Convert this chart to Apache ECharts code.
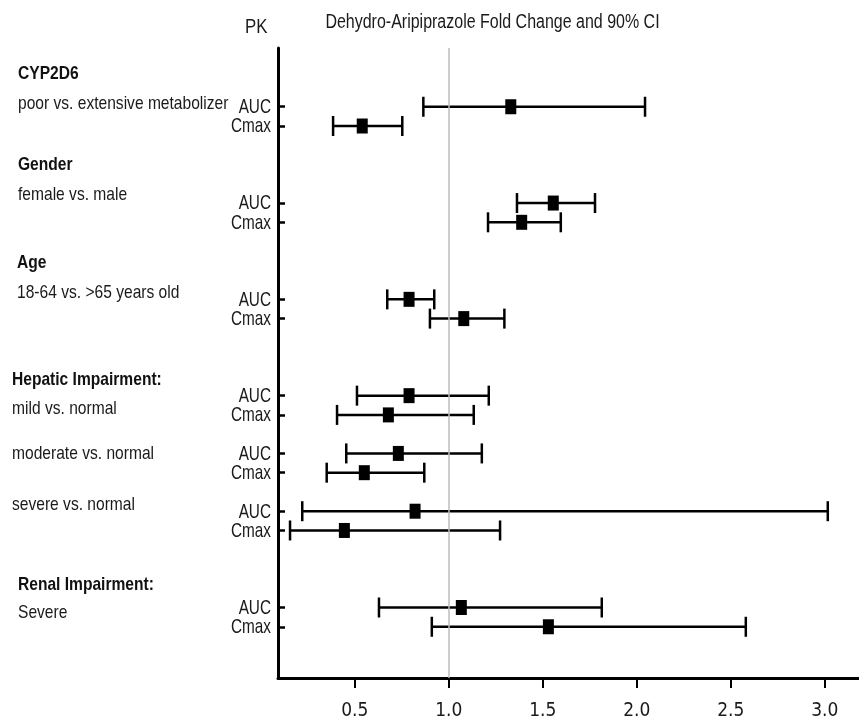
<!DOCTYPE html>
<html>
<head>
<meta charset="utf-8">
<script src="https://cdn.jsdelivr.net/npm/echarts@6/dist/echarts.min.js"></script>
<style>
html,body{margin:0;padding:0;background:#fff;}
#chart{width:859px;height:723px;}
</style>
</head>
<body>
<div id="chart"></div>
<script>
// ---- data ----
const rowPos   = [0, 1, 5, 6, 10, 11, 15, 16, 18, 19, 21, 22, 26, 27];
const pkLabels = ['AUC','Cmax','AUC','Cmax','AUC','Cmax','AUC','Cmax','AUC','Cmax','AUC','Cmax','AUC','Cmax'];
const estimate = [1.33, 0.54, 1.556, 1.388, 0.789, 1.08, 0.789, 0.679, 0.732, 0.551, 0.821, 0.445, 1.067, 1.53];
const lower    = [0.865, 0.385, 1.363, 1.209, 0.673, 0.90, 0.512, 0.406, 0.455, 0.351, 0.221, 0.156, 0.629, 0.91];
const upper    = [2.044, 0.753, 1.778, 1.596, 0.923, 1.296, 1.213, 1.133, 1.176, 0.87, 3.016, 1.273, 1.814, 2.58];
const xTicks   = [0.5, 1.0, 1.5, 2.0, 2.5, 3.0];
const refValue = 1.0;
const groupTitles = ['CYP2D6', 'Gender', 'Age', 'Hepatic Impairment:', 'Renal Impairment:'];
const groupSubs   = ['poor vs. extensive metabolizer', 'female vs. male', '18-64 vs. >65 years old',
                     'mild vs. normal', 'moderate vs. normal', 'severe vs. normal', 'Severe'];
const titleText = 'Dehydro-Aripiprazole Fold Change and 90% CI';
const pkHeader = 'PK';

// ---- layout/styles ----
const FONT = "'Liberation Sans', Arial, sans-serif";
const XFONT = "'DejaVu Sans Condensed','Liberation Sans',sans-serif";
const NARROW = 0.82;
const titlePos = [[18,74],[18,165],[17,263],[12,380],[18,585]];
const subPos = [[18,104],[18,195],[17,293],[12,409],[12,454],[12,505],[18,613]];

const chart = echarts.init(document.getElementById('chart'), null, {renderer:'canvas'});

const graphics = [];
groupTitles.forEach((t,i)=>graphics.push({type:'text', x:titlePos[i][0], y:titlePos[i][1], scaleX:NARROW,
  style:{text:t, font:"bold 19px "+FONT, fill:'#111', verticalAlign:'middle', align:'left'}}));
groupSubs.forEach((t,i)=>graphics.push({type:'text', x:subPos[i][0], y:subPos[i][1], scaleX:NARROW,
  style:{text:t, font:"19px "+FONT, fill:'#1a1a1a', verticalAlign:'middle', align:'left'}}));
graphics.push({type:'text', x:245, y:27, scaleX:NARROW, style:{text:pkHeader, font:"20.5px "+FONT, fill:'#1a1a1a', verticalAlign:'middle', align:'left'}});
graphics.push({type:'text', x:492.5, y:23, scaleX:NARROW, style:{text:titleText, font:"19.5px "+FONT, fill:'#1a1a1a', align:'center', verticalAlign:'middle'}});

const ciData = rowPos.map((r,i)=>[lower[i], upper[i], r, i]);
const ptData = rowPos.map((r,i)=>[estimate[i], r]);
const X_MIN = 0.092, X_MAX = 3.182;

chart.setOption({
  animation:false,
  backgroundColor:'#fff',
  graphic: graphics,
  grid:{left:278, right:0, top:48, bottom:45, containLabel:false},
  xAxis:{
    type:'value', min:X_MIN, max:X_MAX,
    axisLine:{show:true, onZero:false, lineStyle:{color:'#000', width:3}},
    axisTick:{show:true, customValues:xTicks, length:10, lineStyle:{color:'#000', width:2}},
    axisLabel:{customValues:xTicks, formatter:v=>v.toFixed(1), margin:24,
      fontFamily:XFONT, fontSize:19, color:'#1a1a1a'},
    splitLine:{show:false}
  },
  yAxis:{
    type:'value', inverse:true, min:-3.05, max:29.66,
    axisLine:{show:true, onZero:false, lineStyle:{color:'#000', width:3}},
    axisTick:{show:true, inside:true, customValues:rowPos, length:7, lineStyle:{color:'#000', width:2.5}},
    axisLabel:{show:false},
    splitLine:{show:false}
  },
  series:[
    {
      type:'custom',
      clip:false,
      data:ciData,
      renderItem:function(params, api){
        const row = api.value(2);
        const lo = api.coord([api.value(0), row]);
        const hi = api.coord([api.value(1), row]);
        const ax = api.coord([X_MIN, row]);
        const h = 10;
        const st = {stroke:'#000', lineWidth:2.5};
        return {type:'group', children:[
          {type:'line', shape:{x1:lo[0], y1:lo[1], x2:hi[0], y2:hi[1]}, style:st},
          {type:'line', shape:{x1:lo[0], y1:lo[1]-h, x2:lo[0], y2:lo[1]+h}, style:st},
          {type:'line', shape:{x1:hi[0], y1:hi[1]-h, x2:hi[0], y2:hi[1]+h}, style:st},
          {type:'text', x:ax[0]-7, y:ax[1]+0.5, scaleX:0.73,
            style:{text:pkLabels[api.value(3)], font:"21px "+FONT, fill:'#1a1a1a', align:'right', verticalAlign:'middle'}}
        ]};
      },
      markLine:{
        silent:true, symbol:['none','none'], label:{show:false},
        lineStyle:{color:'#bdbdbd', width:1.5, type:'solid'},
        data:[{xAxis:refValue}]
      },
      z:2
    },
    {
      type:'scatter',
      data:ptData,
      symbol:'rect',
      symbolSize:[11,15],
      itemStyle:{color:'#000', opacity:1},
      z:3
    }
  ]
});
</script>
</body>
</html>
